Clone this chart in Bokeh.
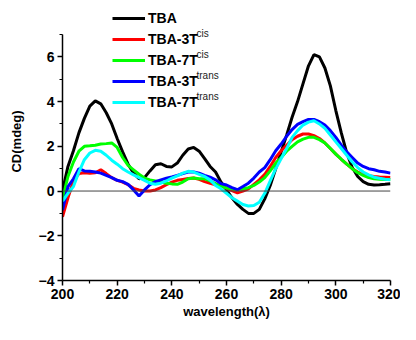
from bokeh.plotting import figure
from bokeh.models import Range1d, Span, Legend, LegendItem, Label, FixedTicker
from bokeh.embed import file_html
from bokeh.resources import INLINE

wavelength = list(range(200, 321, 2))

tba = [0.0, 1.1, 1.8, 2.6, 3.25, 3.8, 4.03, 3.9, 3.5, 3.0,
       2.35, 1.75, 1.2, 0.8, 0.55, 0.6, 0.9, 1.18, 1.22, 1.1,
       1.08, 1.25, 1.6, 1.88, 1.95, 1.78, 1.45, 1.1, 0.85, 0.4,
       0.05, -0.3, -0.6, -0.82, -1.0, -1.0, -0.82, -0.35, 0.25, 1.0,
       1.75, 2.5, 3.3, 4.0, 4.8, 5.6, 6.1, 6.0, 5.5, 4.7,
       3.6, 2.6, 1.7, 1.05, 0.65, 0.42, 0.3, 0.27, 0.28, 0.3, 0.33]

tba3_cis = [-1.15, -0.3, 0.45, 0.78, 0.82, 0.8, 0.82, 0.95, 0.78, 0.6,
            0.48, 0.4, 0.28, 0.12, 0.05, 0.0, 0.0, 0.05, 0.15, 0.28,
            0.4, 0.48, 0.52, 0.56, 0.58, 0.52, 0.42, 0.35, 0.28, 0.25,
            0.13, 0.02, -0.08, 0.0, 0.1, 0.3, 0.5, 0.75, 1.1, 1.5,
            1.8, 2.05, 2.3, 2.45, 2.55, 2.55, 2.48, 2.35, 2.15, 1.9,
            1.65, 1.42, 1.2, 1.0, 0.85, 0.75, 0.68, 0.65, 0.63, 0.62, 0.6]

tba7_cis = [-0.35, 0.65, 1.3, 1.78, 2.0, 2.02, 2.05, 2.1, 2.12, 2.15,
            1.95, 1.5, 1.15, 0.95, 0.75, 0.58, 0.5, 0.45, 0.4, 0.35,
            0.32, 0.3, 0.4, 0.55, 0.58, 0.55, 0.55, 0.45, 0.33, 0.22,
            0.13, 0.1, 0.06, 0.1, 0.15, 0.25, 0.4, 0.6, 0.9, 1.25,
            1.5, 1.78, 2.0, 2.2, 2.32, 2.4, 2.4, 2.3, 2.15, 1.9,
            1.65, 1.42, 1.2, 1.0, 0.82, 0.7, 0.6, 0.55, 0.53, 0.52, 0.52]

tba3_trans = [-0.85, 0.2, 0.55, 1.0, 0.9, 0.88, 0.85, 0.8, 0.7, 0.6,
              0.48, 0.42, 0.3, 0.05, -0.22, 0.05, 0.28, 0.42, 0.5, 0.57,
              0.63, 0.7, 0.78, 0.85, 0.85, 0.8, 0.7, 0.62, 0.5, 0.33,
              0.27, 0.15, 0.06, 0.2, 0.35, 0.58, 0.85, 1.05, 1.4, 1.8,
              2.1, 2.45, 2.75, 2.98, 3.1, 3.2, 3.2, 3.1, 2.95, 2.7,
              2.4, 2.05, 1.75, 1.5, 1.25, 1.1, 1.0, 0.95, 0.88, 0.85, 0.8]

tba7_trans = [-0.45, -0.1, 0.2, 0.85, 1.4, 1.7, 1.82, 1.78, 1.6, 1.38,
              1.2, 1.0, 0.85, 0.72, 0.6, 0.48, 0.35, 0.3, 0.35, 0.45,
              0.58, 0.68, 0.8, 0.88, 0.85, 0.75, 0.65, 0.5, 0.25, 0.1,
              -0.1, -0.3, -0.45, -0.6, -0.67, -0.65, -0.5, -0.1, 0.45, 1.0,
              1.45, 1.9, 2.4, 2.7, 2.95, 3.08, 3.14, 3.0, 2.8, 2.5,
              2.2, 1.9, 1.6, 1.3, 1.05, 0.85, 0.72, 0.62, 0.57, 0.53, 0.5]

series = [
    ("TBA", "", tba, "#000000"),
    ("TBA-3T", "cis", tba3_cis, "#ff0000"),
    ("TBA-7T", "cis", tba7_cis, "#00ff00"),
    ("TBA-3T", "trans", tba3_trans, "#0000ff"),
    ("TBA-7T", "trans", tba7_trans, "#00ffff"),
]

x_ticks = [200, 220, 240, 260, 280, 300, 320]
x_minor = [210, 230, 250, 270, 290, 310]
y_ticks = [-4, -2, 0, 2, 4, 6]
y_minor = [-3, -1, 1, 3, 5, 7]

FONT = "Liberation Sans"

p = figure(width=400, height=324, x_range=Range1d(200, 320), y_range=Range1d(-4, 8.43),
           output_backend="svg", toolbar_location=None,
           min_border_left=62, min_border_right=10, min_border_top=2, min_border_bottom=44)
p.outline_line_color = None
p.grid.visible = False
p.background_fill_color = "white"

p.xaxis.ticker = FixedTicker(ticks=x_ticks, minor_ticks=x_minor)
p.yaxis.ticker = FixedTicker(ticks=y_ticks, minor_ticks=y_minor)
p.yaxis.bounds = (-4, 7)
for ax in (p.xaxis, p.yaxis):
    ax.axis_line_width = 1.5
    ax.axis_line_color = "black"
    ax.major_tick_line_width = 1.5
    ax.minor_tick_line_width = 1.2
    ax.major_tick_in = 0
    ax.major_tick_out = 5
    ax.minor_tick_in = 0
    ax.minor_tick_out = 3
    ax.major_label_text_font = FONT
    ax.major_label_text_font_style = "bold"
    ax.major_label_text_font_size = "14px"
    ax.major_label_text_color = "black"
    ax.axis_label_text_font = FONT
    ax.axis_label_text_font_style = "bold"
    ax.axis_label_text_font_size = "13px"
    ax.axis_label_text_color = "black"
p.xaxis.axis_label = "wavelength(λ)"
p.yaxis.axis_label = "CD(mdeg)"
p.xaxis.major_label_standoff = 3
p.yaxis.major_label_standoff = 3
p.xaxis.axis_label_standoff = 2
p.yaxis.axis_label_standoff = 12

p.add_layout(Span(location=0, dimension="width", line_color="#444444", line_width=1))

items = []
for name, sup, vals, col in series:
    r = p.line(wavelength, vals, line_color=col, line_width=3)
    items.append(LegendItem(label=name, renderers=[r]))

legend = Legend(items=items, location=(50, 169), orientation="vertical",
                glyph_width=33, glyph_height=18, label_height=18, spacing=3,
                label_standoff=3, padding=0, margin=0,
                border_line_color=None, background_fill_alpha=0,
                label_text_font=FONT, label_text_font_style="bold",
                label_text_font_size="14px", label_text_color="black")
p.add_layout(legend)

sup_y = [247, 226, 205, 184]
k = 0
for name, sup, vals, col in series:
    if sup:
        p.add_layout(Label(x=134, y=sup_y[k], x_units="screen", y_units="screen", text=sup,
                           text_font=FONT, text_font_size="10px", text_baseline="middle",
                           text_color="#222222"))
        k += 1

open("out.html", "w").write(file_html(p, INLINE))
